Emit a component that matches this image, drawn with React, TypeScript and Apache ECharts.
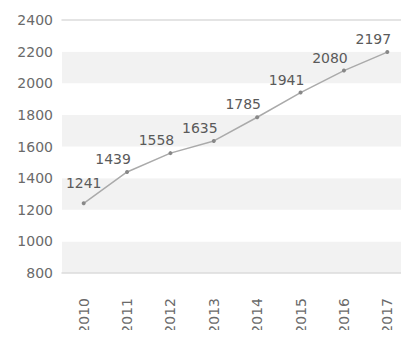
import React, { useEffect, useRef } from "react";
import * as echarts from "echarts";

const years = ["2010", "2011", "2012", "2013", "2014", "2015", "2016", "2017"];
const values = [1241, 1439, 1558, 1635, 1785, 1941, 2080, 2197];
const yMin = 800;
const yMax = 2400;
const yStep = 200;

export default function App() {
  const ref = useRef<HTMLDivElement>(null);
  useEffect(() => {
    if (!ref.current) return;
    const chart = echarts.init(ref.current, undefined, { renderer: "svg" });
    const font = "DejaVu Sans";
    const seriesData = values.map((v, i) =>
      i === 0 ? { value: v, label: { offset: [0, -7] } } : { value: v }
    );
    chart.setOption({
      animation: false,
      grid: { left: 62, right: -5, top: 20, bottom: 65 },
      xAxis: [
        {
          type: "category",
          data: years,
          boundaryGap: true,
          axisLine: { show: true, lineStyle: { color: "#dcdcdc", width: 1.5 } },
          axisTick: { show: false },
          axisLabel: {
            rotate: 90,
            margin: 25,
            color: "#6a6a6a",
            fontFamily: font,
            fontSize: 14,
          },
        },
        {
          type: "category",
          data: years,
          position: "top",
          axisLine: { show: true, lineStyle: { color: "#dcdcdc", width: 1.5 } },
          axisTick: { show: false },
          axisLabel: { show: false },
        },
      ],
      yAxis: {
        type: "value",
        min: yMin,
        max: yMax,
        interval: yStep,
        axisLine: { show: false },
        axisTick: { show: false },
        splitLine: { show: false },
        splitArea: { show: true, areaStyle: { color: ["#f2f2f2", "#ffffff"] } },
        axisLabel: {
          margin: 9,
          color: "#6a6a6a",
          fontFamily: font,
          fontSize: 14,
          formatter: (v: number) => String(v),
        },
      },
      series: [
        {
          type: "line",
          data: seriesData,
          symbol: "circle",
          symbolSize: 4,
          itemStyle: { color: "#888" },
          lineStyle: { color: "#aaa", width: 1.5 },
          label: {
            show: true,
            position: "top",
            distance: 4,
            offset: [-14, 0],
            color: "#5a5a5a",
            fontFamily: font,
            fontSize: 14,
            formatter: (p: any) => String(p.value),
          },
        },
      ],
    });
    return () => chart.dispose();
  }, []);
  return <div ref={ref} style={{ width: 409, height: 338, margin: -8 }} />;
}
